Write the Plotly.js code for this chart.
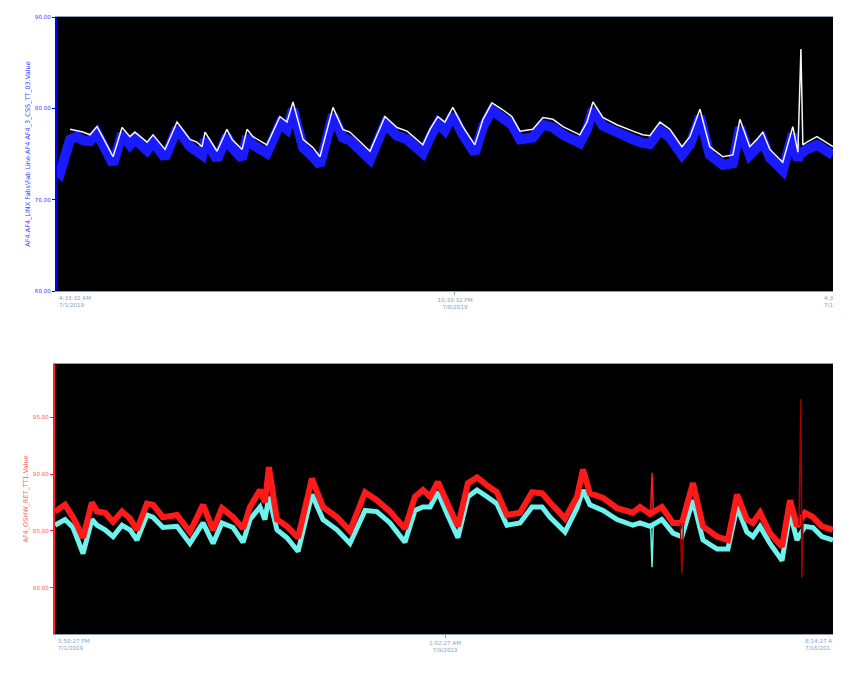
<!DOCTYPE html>
<html>
<head>
<meta charset="utf-8">
<script src="https://cdn.plot.ly/plotly-3.0.1.min.js"></script>
<style>html,body{margin:0;padding:0;background:#fff;}#chart{width:848px;height:674px;}</style>
</head>
<body>
<div id="chart"></div>
<script>
// ---------- Top chart: AF4_3_CSS_TT_03 (hours since 7/1/2019 4:33:32 AM) ----------
const topHours = [0,1.4,6.1,9.3,12.1,15.4,18.7,21.5,26.2,30.4,34.1,36.4,42.1,44.9,50.5,56.1,62.2,65.4,67.8,69.2,74.8,79.4,81.8,86.5,88.8,91.6,98.1,104.2,107.5,110.3,115.0,119.6,122.9,129.0,133.6,136.9,141.6,146.3,153.3,158.9,163.6,171.0,174.3,178.0,181.3,185.0,189.7,195.3,199.1,203.3,208.0,212.6,216.4,222.4,227.1,231.8,236.5,244.4,247.7,250.5,255.1,261.7,269.2,273.8,277.1,281.8,286.5,292.1,295.8,300.5,305.1,311.2,315.9,319.2,323.8,327.1,329.9,333.2,339.2,343.9,346.3,347.7,348.6,350.5,355.2,362.7];
const topWhite = [null,null,77.7,77.5,77.4,77.1,78.0,76.8,74.7,77.9,76.9,77.4,76.3,77.1,75.5,78.5,76.6,76.3,75.8,77.4,75.3,77.7,76.6,75.5,77.7,76.9,76.0,79.1,78.5,80.7,76.6,75.7,74.7,80.1,77.7,77.4,76.4,75.3,79.1,77.9,77.5,76.0,77.7,79.1,78.5,80.1,78.0,76.0,78.8,80.6,79.9,79.1,77.5,77.7,79.0,78.8,78.0,77.1,78.5,80.7,79.0,78.2,77.5,77.1,77.0,78.5,77.7,75.8,76.9,79.9,75.8,74.7,74.9,78.8,75.8,76.6,77.4,75.5,74.1,78.0,75.2,86.5,76.0,76.3,76.9,75.8];
const topBlue = [73.2,72.9,76.6,76.9,76.5,76.4,77.3,75.9,73.9,77.2,76.0,76.6,75.4,76.3,74.6,77.8,75.8,75.3,74.9,76.6,74.4,77.0,75.7,74.5,76.9,76.0,75.1,78.3,77.7,79.9,75.7,74.7,73.8,79.3,76.8,76.5,75.5,74.4,78.3,77.0,76.6,75.1,76.8,78.4,77.6,79.3,77.1,75.1,78.0,79.8,79.0,78.2,76.6,76.8,78.2,77.9,77.1,76.2,77.7,79.9,78.1,77.3,76.6,76.2,76.1,77.6,76.8,74.9,76.0,79.1,74.9,73.8,74.0,77.9,74.9,75.7,76.5,74.6,73.2,77.2,74.3,75.5,75.2,75.5,76.0,74.9];
const topTickHours = [0,186,372];
const topTickLabels = ['4:33:32 AM<br>7/1/2019','10:33:32 PM<br>7/8/2019','4:3<br>7/1'];
const topYTicks = [60,70,80,90];
const topYLabels = ['60.00','70.00','80.00','90.00'];
const topYTitle = 'AF4.AF4_LINX Fabs\\Fab Line.AF4 AF4_3_CSS_TT_03.Value';

// ---------- Bottom chart: AF4_OSHW_RET_TT1 (hours since 7/1/2019 5:50:27 PM) ----------
const botHours = [0,4.5,8.1,12.6,16.6,18.9,22.5,26.1,30.1,33.7,36.8,41.3,44.0,48.5,54.8,60.6,66.5,71.0,75.0,80.0,84.5,87.6,92.1,94.3,96.1,99.7,104.2,109.2,115.4,120.4,126.7,132.5,139.3,144.6,150.5,157.2,161.7,165.3,168.5,172.0,176.1,181.0,185.5,189.6,194.1,198.5,203.0,208.9,214.3,218.8,222.4,229.1,234.5,237.2,240.3,246.2,252.5,259.6,262.8,267.3,272.6,277.6,281.6,286.6,291.1,297.4,302.3,306.4,310.8,313.5,316.7,321.2,326.6,330.2,333.3,335.1,336.9,340.5,344.5,349.5];
const botRed = [86.7,87.3,86.2,84.4,87.5,86.7,86.6,85.8,86.7,86.1,85.1,87.4,87.3,86.2,86.4,84.9,87.3,85.1,87.0,86.2,85.2,87.1,88.6,87.5,90.6,86.0,85.4,84.4,89.6,87.1,86.2,85.0,88.4,87.7,86.7,85.2,88.0,88.6,88.0,89.3,87.5,85.4,89.2,89.7,89.0,88.4,86.4,86.6,88.4,88.3,87.5,86.1,88.0,90.4,88.3,87.9,87.0,86.6,87.1,86.5,87.1,85.7,85.7,89.2,85.4,84.5,84.2,88.2,86.0,85.7,86.6,84.8,83.6,87.7,85.4,86.0,86.6,86.2,85.4,85.1];
const botCyan = [85.5,86.0,85.3,83.0,86.0,85.5,85.1,84.5,85.5,85.1,84.2,86.4,86.2,85.3,85.4,83.9,85.7,83.9,85.7,85.3,84.0,86.0,87.1,86.0,88.0,85.1,84.4,83.2,88.2,86.0,85.1,83.9,86.8,86.7,85.7,84.0,86.8,87.1,87.1,88.4,86.5,84.4,88.0,88.6,88.0,87.4,85.5,85.7,87.1,87.1,86.2,84.9,87.0,88.6,87.3,86.8,86.0,85.5,85.7,85.4,86.0,84.8,84.5,87.7,84.2,83.4,83.4,87.1,84.9,84.5,85.4,83.9,82.4,86.6,84.2,84.8,85.4,85.3,84.5,84.2];
// thin spikes
const redSpikeHours  = [267.6,268.2,268.8];
const redSpikeVals   = [86.6,90.1,86.8];
const cyanSpikeHours = [267.6,268.2,268.8];
const cyanSpikeVals  = [85.4,81.8,85.6];
const darkSpikeHours = [280.9,281.6,282.3,null,334.2,335.1,335.5,336.0];
const darkSpikeVals  = [85.7,81.3,85.7,null,85.5,96.6,80.9,86.0];
const botTickHours = [0,175.2,350.4];
const botTickLabels = ['5:50:27 PM<br>7/1/2019','1:02:27 AM<br>7/9/2019','8:14:27 A<br>7/16/201'];
const botYTicks = [80,85,90,95];
const botYLabels = ['80.00','85.00','90.00','95.00'];
const botYTitle = 'AF4_OSHW_RET_TT1.Value';

const W = 848, H = 674;
const FONT = 'DejaVu Sans, Verdana, sans-serif';
const xLabelColor = '#7f9fc8';
const TICK = 5.6;

const traces = [
  {x: topHours, y: topBlue, xaxis:'x', yaxis:'y', mode:'lines', line:{color:'#1a1aff', width:10}},
  {x: topHours, y: topWhite, xaxis:'x', yaxis:'y', mode:'lines', line:{color:'#f4f4ff', width:1.5}, connectgaps:false},
  {x: botHours, y: botCyan, xaxis:'x2', yaxis:'y2', mode:'lines', line:{color:'#6ff2ee', width:5}},
  {x: cyanSpikeHours, y: cyanSpikeVals, xaxis:'x2', yaxis:'y2', mode:'lines', line:{color:'#6ff2ee', width:1.5}},
  {x: botHours, y: botRed, xaxis:'x2', yaxis:'y2', mode:'lines', line:{color:'#ff1a1a', width:6}},
  {x: redSpikeHours, y: redSpikeVals, xaxis:'x2', yaxis:'y2', mode:'lines', line:{color:'#ff1a1a', width:1.5}},
  {x: darkSpikeHours, y: darkSpikeVals, xaxis:'x2', yaxis:'y2', mode:'lines', line:{color:'#a00000', width:1.5}, connectgaps:false}
];

const annotations = [
  {xref:'paper', yref:'paper', x:57/W, y:1-293/H, xanchor:'left', yanchor:'top', align:'left', showarrow:false, text: topTickLabels[0], font:{family:FONT, size:TICK, color:xLabelColor}},
  {xref:'paper', yref:'paper', x:822/W, y:1-293/H, xanchor:'left', yanchor:'top', align:'left', showarrow:false, text: topTickLabels[2], font:{family:FONT, size:TICK, color:xLabelColor}},
  {xref:'paper', yref:'paper', x:56/W, y:1-636/H, xanchor:'left', yanchor:'top', align:'left', showarrow:false, text: botTickLabels[0], font:{family:FONT, size:TICK, color:xLabelColor}},
  {xref:'paper', yref:'paper', x:803/W, y:1-636/H, xanchor:'left', yanchor:'top', align:'left', showarrow:false, text: botTickLabels[2], font:{family:FONT, size:TICK, color:xLabelColor}}
];

const layout = {
  width: W, height: H,
  margin: {l:0, r:0, t:0, b:0},
  paper_bgcolor: '#ffffff',
  plot_bgcolor: '#000000',
  showlegend: false,
  xaxis: {
    domain:[57/W, 833/W], anchor:'y', range:[0, 362.7],
    tickvals:[topTickHours[1]], ticktext:[topTickLabels[1]],
    tickfont:{family:FONT, size:TICK, color:xLabelColor},
    showgrid:false, zeroline:false, showline:true, linecolor:'#8f9db0', linewidth:1, mirror:true,
    ticks:'outside', ticklen:3, tickcolor:'#8f9db0', automargin:false
  },
  yaxis: {
    domain:[1-291/H, 1-17/H], anchor:'x', range:[60, 90],
    tickvals: topYTicks, ticktext: topYLabels,
    tickfont:{family:FONT, size:TICK, color:'#3d3dff'},
    showgrid:false, zeroline:false, showline:true, linecolor:'#0000ff', linewidth:2,
    ticks:'outside', ticklen:3, tickcolor:'#0000ff', automargin:false,
    title:{text: topYTitle, font:{family:FONT, size:6.5, color:'#3d3dff'}, standoff:4}
  },
  xaxis2: {
    domain:[55/W, 833/W], anchor:'y2', range:[0, 349.5],
    tickvals:[botTickHours[1]], ticktext:[botTickLabels[1]],
    tickfont:{family:FONT, size:TICK, color:xLabelColor},
    showgrid:false, zeroline:false, showline:true, linecolor:'#8f9db0', linewidth:1, mirror:true,
    ticks:'outside', ticklen:3, tickcolor:'#8f9db0', automargin:false
  },
  yaxis2: {
    domain:[1-634/H, 1-364/H], anchor:'x2', range:[75.94, 99.67],
    tickvals: botYTicks, ticktext: botYLabels,
    tickfont:{family:FONT, size:TICK, color:'#ff5a5a'},
    showgrid:false, zeroline:false, showline:true, linecolor:'#ff2020', linewidth:2,
    ticks:'outside', ticklen:3, tickcolor:'#ff2020', automargin:false,
    title:{text: botYTitle, font:{family:FONT, size:6.5, color:'#ff5a5a'}, standoff:4}
  },
  annotations: annotations
};

Plotly.newPlot('chart', traces, layout, {staticPlot:true, displayModeBar:false});
</script>
</body>
</html>
